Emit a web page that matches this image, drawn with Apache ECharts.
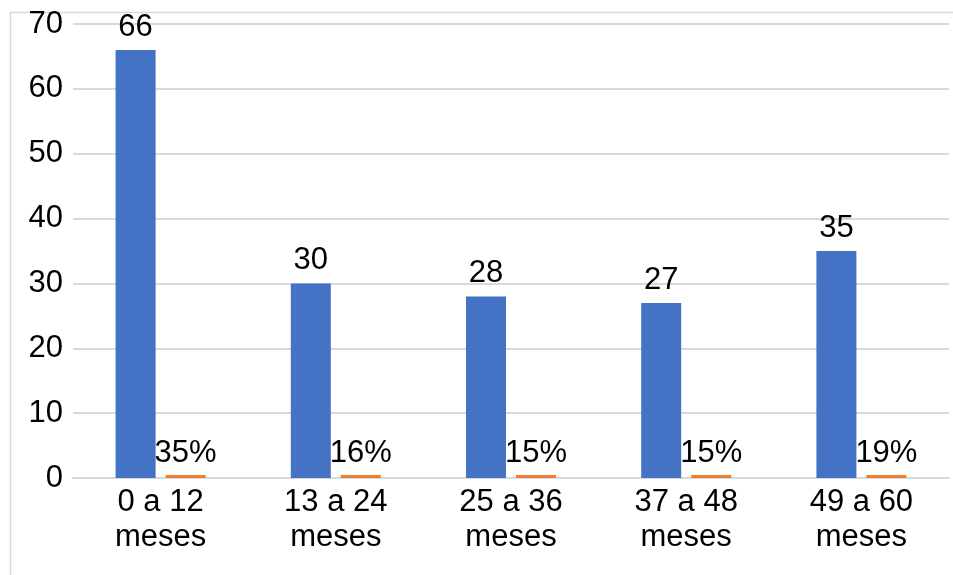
<!DOCTYPE html>
<html>
<head>
<meta charset="utf-8">
<script src="https://cdn.jsdelivr.net/npm/echarts@6/dist/echarts.min.js"></script>
<style>
  html, body { margin: 0; padding: 0; background: #fff; }
  #chart { width: 953px; height: 575px; }
</style>
</head>
<body>
<div id="chart"></div>
<script>
// Age groups (months)
const categories = ['0 a 12\nmeses', '13 a 24\nmeses', '25 a 36\nmeses', '37 a 48\nmeses', '49 a 60\nmeses'];
// Number of cases per age group
const counts = [66, 30, 28, 27, 35];
// Share of the total per age group
const shares = [0.35, 0.16, 0.15, 0.15, 0.19];
// Value axis ticks
const yMin = 0, yMax = 70, yStep = 10;

const FONT = '"Liberation Sans", Arial, sans-serif';
const FS = 31;
const chart = echarts.init(document.getElementById('chart'), null, { renderer: 'canvas' });

chart.setOption({
  animation: false,
  backgroundColor: '#ffffff',
  textStyle: { fontFamily: FONT },
  graphic: [{
    type: 'rect',
    shape: { x: 10.5, y: 12.5, width: 1000, height: 1000 },
    style: { fill: 'none', stroke: '#d9d9d9', lineWidth: 1.5 },
    silent: true
  }],
  grid: { left: 73, right: 4, top: 24, bottom: 97, containLabel: false },
  xAxis: {
    type: 'category',
    data: categories,
    axisTick: { show: false },
    axisLine: { lineStyle: { color: '#d9d9d9', width: 2 } },
    axisLabel: {
      color: '#000', fontSize: FS, fontFamily: FONT, lineHeight: 35, margin: 7, interval: 0
    }
  },
  yAxis: {
    type: 'value',
    min: yMin, max: yMax, interval: yStep,
    axisLine: { show: false },
    axisTick: { show: false },
    splitLine: { lineStyle: { color: '#d9d9d9', width: 2 } },
    axisLabel: { color: '#000', fontSize: FS, fontFamily: FONT, margin: 10 }
  },
  series: [
    {
      name: 'Casos',
      type: 'bar',
      data: counts,
      barWidth: 40,
      barGap: '25%',
      itemStyle: { color: '#4472c4' },
      label: {
        show: true, position: 'top', distance: 7,
        color: '#000', fontSize: FS, fontFamily: FONT
      }
    },
    {
      name: '%',
      type: 'bar',
      data: shares,
      barWidth: 40,
      barMinHeight: 3,
      itemStyle: { color: '#ed7d31' },
      label: {
        show: true, position: 'top', distance: 6,
        color: '#000', fontSize: FS, fontFamily: FONT,
        formatter: p => Math.round(p.value * 100) + '%'
      }
    }
  ]
});
</script>
</body>
</html>
